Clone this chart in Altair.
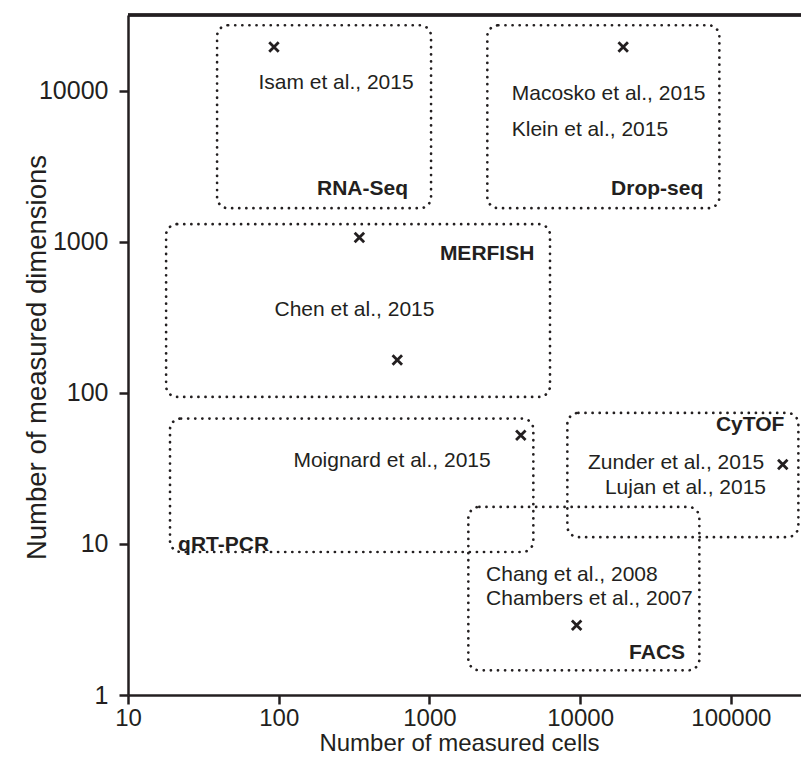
import altair as alt
import pandas as pd

INK = "#231f20"
FONT = "Liberation Sans"

# Measured experiments (cells, dimensions)
point_cells = [93, 19300, 343, 612, 4040, 221000, 9480]
point_dims = [19500, 19500, 1070, 165, 52.5, 33.6, 2.9]

# Technology boxes
box_names = ["RNA-Seq", "Drop-seq", "MERFISH", "qRT-PCR", "CyTOF", "FACS"]
box_x1 = [39, 2422, 17.9, 19.0, 8225, 1812]
box_x2 = [1025, 83900, 6310, 4892, 280500, 61800]
box_y1 = [1672, 1672, 94.1, 8.85, 11.1, 1.457]
box_y2 = [27200, 27200, 1310, 67.7, 73.7, 17.6]

# Technology labels (bold)
method_names = ["RNA-Seq", "Drop-seq", "MERFISH", "qRT-PCR", "CyTOF", "FACS"]
method_x = [721, 65600, 4970, 21.5, 226600, 49700]
method_y = [2250, 2250, 829, 9.8, 61, 1.89]
method_align = ["right", "right", "right", "left", "right", "right"]

# Study labels
study_names = ["Isam et al., 2015", "Macosko et al., 2015", "Klein et al., 2015",
               "Chen et al., 2015", "Moignard et al., 2015", "Zunder et al., 2015",
               "Lujan et al., 2015", "Chang et al., 2008", "Chambers et al., 2007"]
study_x = [240, 3515, 3515, 318, 565, 166700, 171200, 2375, 2375]
study_y = [11200, 9600, 5500, 356, 35.3, 34.5, 23.6, 6.23, 4.32]
study_align = ["center", "left", "left", "center", "center", "right", "right", "left", "left"]

W, H = 673, 680

points = pd.DataFrame({"cells": point_cells, "dims": point_dims})
boxes = pd.DataFrame({"name": box_names, "x1": box_x1, "x2": box_x2, "y1": box_y1, "y2": box_y2})
methods = pd.DataFrame({"name": method_names, "x": method_x, "y": method_y, "align": method_align})
studies = pd.DataFrame({"name": study_names, "x": study_x, "y": study_y, "align": study_align})

xscale = alt.Scale(type="log", domain=[10, 292000], nice=False)
yscale = alt.Scale(type="log", domain=[1, 31800], nice=False)

xaxis = alt.Axis(values=[10, 100, 1000, 10000, 100000], format="d",
                 title="Number of measured cells", titleFontSize=24, titleFontWeight="normal",
                 titleX=331, titleY=55, titleBaseline="alphabetic", titleFont=FONT, titleColor=INK,
                 labelFontSize=24, labelFont=FONT, labelColor=INK, labelPadding=2, labelFlush=False,
                 tickSize=9, tickWidth=2.5, tickColor=INK, domainWidth=2.5, domainColor=INK, grid=False)
yaxis = alt.Axis(values=[1, 10, 100, 1000, 10000], format="d",
                 title="Number of measured dimensions", titleFontSize=27.5, titleFontWeight="normal",
                 titleX=-83, titleY=342, titleBaseline="alphabetic", titleFont=FONT, titleColor=INK,
                 labelFontSize=25, labelFont=FONT, labelColor=INK, labelPadding=11,
                 tickSize=9, tickWidth=2.5, tickColor=INK, domainWidth=2.5, domainColor=INK, grid=False)

box_layer = alt.Chart(boxes).mark_rect(
    filled=False, color=INK, strokeWidth=2.7, strokeDash=[0.1, 7], strokeCap="round", cornerRadius=11
).encode(
    x=alt.X("x1:Q", scale=xscale, axis=xaxis),
    x2="x2:Q",
    y=alt.Y("y1:Q", scale=yscale, axis=yaxis),
    y2="y2:Q",
)

point_layer = alt.Chart(points).mark_point(
    shape="M-1,-1L1,1M-1,1L1,-1", size=90, filled=False, color=INK, strokeWidth=2.8, opacity=1
).encode(x="cells:Q", y="dims:Q")

layers = [box_layer, point_layer]
for al in ["left", "center", "right"]:
    layers.append(
        alt.Chart(studies).transform_filter(alt.datum.align == al).mark_text(
            align=al, baseline="middle", fontSize=21, font=FONT, color=INK
        ).encode(x="x:Q", y="y:Q", text="name:N")
    )
    layers.append(
        alt.Chart(methods).transform_filter(alt.datum.align == al).mark_text(
            align=al, baseline="middle", fontSize=21, font=FONT, fontWeight="bold", color=INK
        ).encode(x="x:Q", y="y:Q", text="name:N")
    )

top_rule = alt.Chart(points).mark_rule(color=INK, strokeWidth=2.5).encode(
    x=alt.value(0), x2=alt.value(W), y=alt.value(0)
)
layers.append(top_rule)

chart = alt.layer(*layers).properties(
    width=W, height=H,
    autosize=alt.AutoSizeParams(type="none"),
    padding={"left": 120, "top": 7, "right": 0, "bottom": 59},
).configure_view(stroke=None)

chart.save("out.html", embed_options={"renderer": "svg", "actions": False})
